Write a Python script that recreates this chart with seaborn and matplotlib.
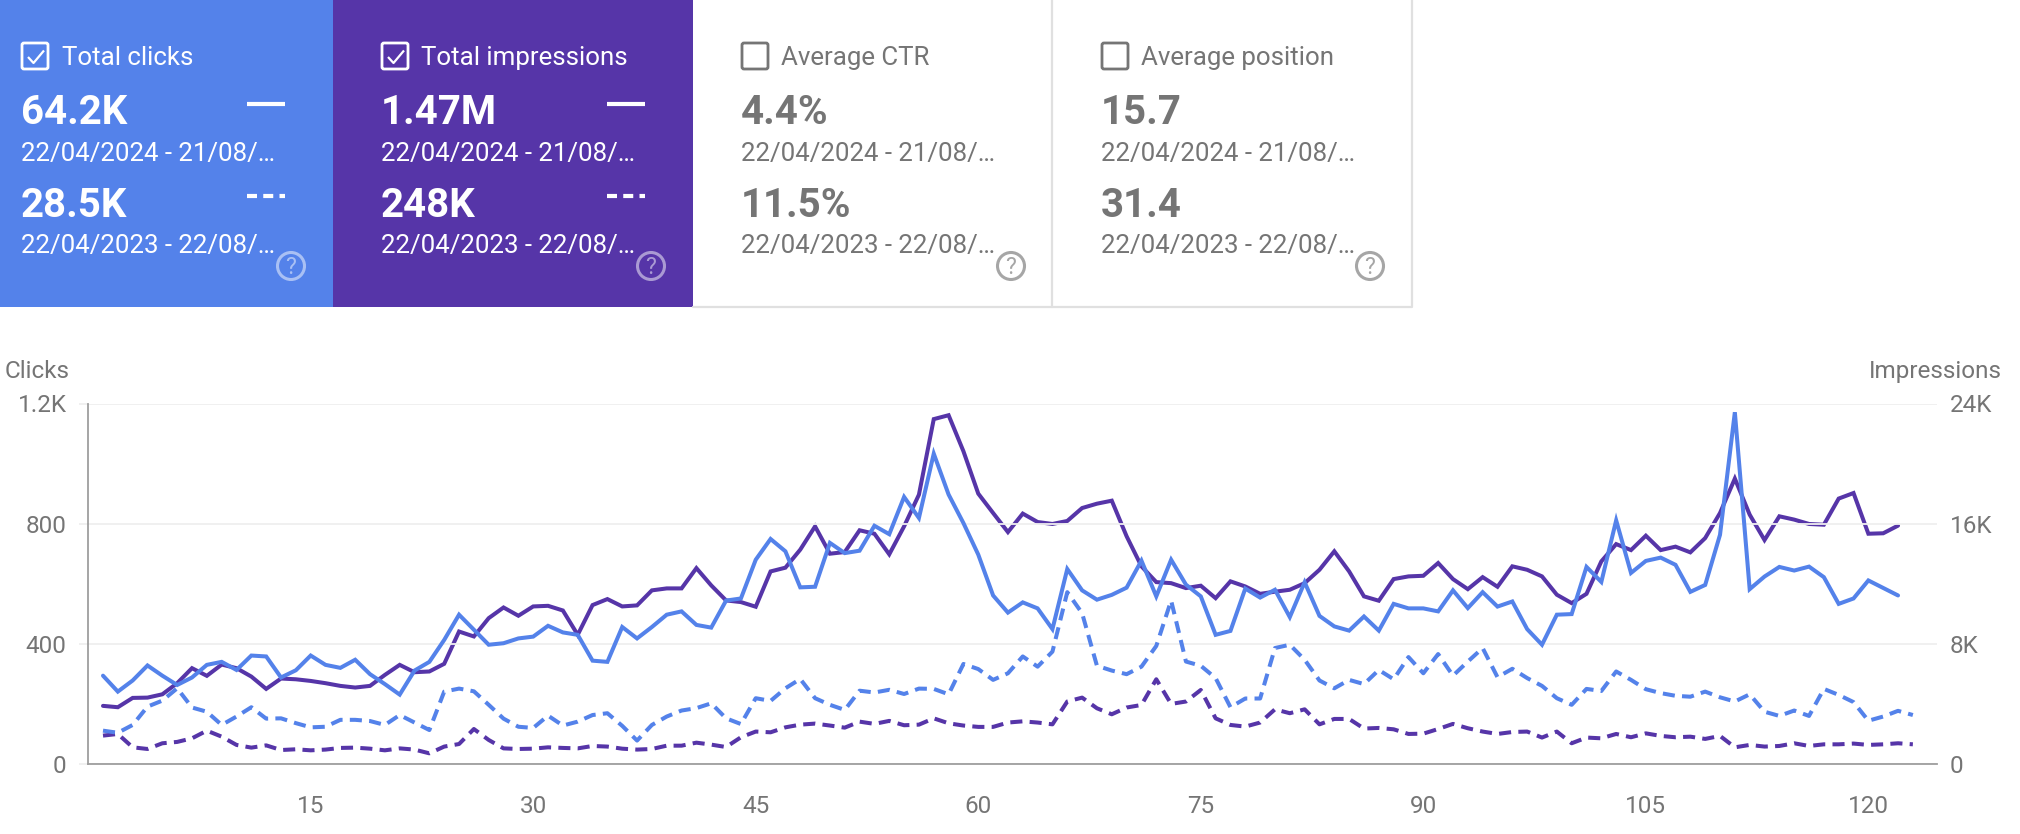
import matplotlib
matplotlib.use('Agg')
import matplotlib.pyplot as plt
from matplotlib.patches import Rectangle, FancyBboxPatch, Circle
import numpy as np
import seaborn as sns

# Card text
card_titles = ['Total clicks', 'Total impressions', 'Average CTR', 'Average position']
current_values = ['64.2K', '1.47M', '4.4%', '15.7']
previous_values = ['28.5K', '248K', '11.5%', '31.4']
current_range = '22/04/2024 - 21/08/…'
previous_range = '22/04/2023 - 22/08/…'

# Axis ticks
click_ticks = [0, 400, 800, 1200]
click_tick_labels = ['0', '400', '800', '1.2K']
impression_ticks = [0, 8000, 16000, 24000]
impression_tick_labels = ['0', '8K', '16K', '24K']
day_ticks = [15, 30, 45, 60, 75, 90, 105, 120]

# Series
clicks_current = [294, 241, 278, 328, 294, 263, 288, 330, 340, 313, 361, 358, 288, 312, 361, 330, 320, 347, 299, 266,
                  231, 311, 340, 413, 497, 447, 397, 402, 418, 424, 460, 438, 430, 344, 340, 456, 418, 456, 497, 508,
                  463, 454, 544, 551, 680, 749, 708, 588, 590, 736, 702, 710, 793, 765, 889, 819, 1033, 897, 802, 697,
                  561, 504, 538, 518, 449, 649, 578, 547, 563, 587, 677, 558, 680, 597, 558, 430, 443, 584, 554, 580,
                  489, 605, 493, 458, 444, 491, 444, 533, 518, 518, 508, 578, 519, 572, 524, 541, 449, 397, 497, 499,
                  656, 606, 811, 636, 676, 687, 663, 573, 596, 763, 1171, 582, 624, 656, 644, 657, 622, 533, 551, 611,
                  586, 561]
impressions_current = [3870, 3780, 4400, 4420, 4640, 5380, 6380, 5870, 6620, 6380, 5820, 5000, 5690, 5640, 5530, 5380,
                       5200, 5090, 5200, 5930, 6600, 6110, 6160, 6670, 8820, 8490, 9710, 10420, 9870, 10490, 10530,
                       10220, 8600, 10580, 10980, 10490, 10560, 11560, 11690, 11690, 13040, 11890, 10890, 10780, 10470,
                       12820, 13070, 14270, 15820, 14000, 14110, 15560, 15330, 13960, 15820, 17930, 22960, 23220, 20820,
                       18000, 16710, 15440, 16670, 16110, 15980, 16180, 17040, 17330, 17530, 15160, 13160, 12110, 12040,
                       11710, 11870, 11040, 12160, 11820, 11330, 11470, 11600, 12040, 12930, 14160, 12820, 11160, 10870,
                       12310, 12490, 12530, 13380, 12310, 11640, 12440, 11800, 13160, 12930, 12490, 11270, 10710, 11330,
                       13490, 14640, 14240, 15200, 14240, 14470, 14090, 15040, 16710, 19000, 16600, 14910, 16490, 16270,
                       15980, 15930, 17670, 18040, 15330, 15360, 15870]
clicks_previous = [111, 104, 130, 191, 211, 252, 188, 174, 130, 158, 189, 151, 152, 136, 122, 124, 147, 147, 143, 130,
                   163, 138, 113, 241, 251, 242, 197, 151, 124, 120, 161, 128, 141, 163, 169, 127, 78, 130, 158, 178,
                   186, 202, 152, 133, 219, 210, 252, 283, 219, 197, 180, 244, 238, 247, 233, 251, 250, 232, 333, 316,
                   280, 302, 358, 324, 374, 572, 502, 327, 311, 299, 324, 393, 544, 341, 327, 286, 189, 218, 218, 386,
                   397, 347, 278, 252, 280, 266, 313, 282, 356, 302, 366, 294, 341, 386, 289, 317, 286, 260, 219, 197,
                   250, 243, 308, 280, 249, 236, 227, 224, 241, 222, 208, 232, 174, 160, 178, 160, 250, 230, 206, 144,
                   158, 177, 163]
impressions_previous = [1890, 2000, 1110, 1000, 1380, 1470, 1710, 2220, 1820, 1270, 1090, 1240, 930, 980, 910, 960,
                        1070, 1090, 1020, 910, 1040, 960, 710, 1160, 1330, 2330, 1600, 1040, 1000, 1020, 1110, 1070,
                        1040, 1200, 1160, 1020, 960, 1000, 1220, 1220, 1420, 1290, 1130, 1780, 2160, 2110, 2440, 2620,
                        2690, 2560, 2420, 2820, 2670, 2870, 2580, 2620, 3040, 2710, 2560, 2470, 2470, 2760, 2840, 2760,
                        2640, 4160, 4420, 3710, 3310, 3760, 3930, 5640, 4000, 4160, 4930, 3040, 2600, 2490, 2760, 3640,
                        3380, 3640, 2640, 3000, 3000, 2360, 2400, 2310, 2000, 2020, 2330, 2670, 2380, 2160, 2000, 2130,
                        2160, 1760, 2160, 1380, 1760, 1710, 2000, 1780, 2040, 1870, 1780, 1820, 1670, 1870, 1110, 1270,
                        1160, 1200, 1380, 1200, 1310, 1310, 1360, 1270, 1310, 1380, 1310]

BLUE = '#5482EA'
PURPLE = '#5635A8'
GREY = '#757575'
GRID = '#EFEFEF'
AXIS = '#9E9E9E'
BORDER = '#E0E0E0'

W, H = 2020, 834

sns.set_theme(style='white')
plt.rcParams['font.family'] = ['Roboto', 'DejaVu Sans']

fig = plt.figure(figsize=(W / 100, H / 100), dpi=100, facecolor='white')

# Background layer in pixel coordinates for the cards
bg = fig.add_axes([0, 0, 1, 1])
bg.set_xlim(0, W)
bg.set_ylim(H, 0)
bg.axis('off')

card_edges = [0, 333, 693, 1052, 1412]
card_fills = [BLUE, PURPLE, 'white', 'white']
text_left = [21, 381, 741, 1101]
title_left = [61.5, 421, 781, 1141]
card_bottom = 307

for i, title in enumerate(card_titles):
    x0, x1 = card_edges[i], card_edges[i + 1]
    bg.add_patch(Rectangle((x0, 0), x1 - x0, card_bottom, facecolor=card_fills[i], edgecolor='none'))
    active = i < 2
    fg = 'white' if active else GREY

    # checkbox
    bx = text_left[i] + 1
    bg.add_patch(FancyBboxPatch((bx, 43), 26, 26, boxstyle='round,pad=0,rounding_size=2',
                                fill=False, edgecolor=fg, linewidth=2))
    if active:
        bg.plot([bx + 6, bx + 11.5, bx + 22], [57, 63, 50.5], color='white', lw=1.6, solid_capstyle='butt')

    bg.text(title_left[i], 65, title, color=fg, fontsize=18.6, va='baseline', ha='left')
    bg.text(text_left[i], 124, current_values[i], color=fg, fontsize=29, fontweight='bold', va='baseline', ha='left')
    bg.text(text_left[i], 161, current_range, color=fg, fontsize=18.6, va='baseline', ha='left')
    bg.text(text_left[i], 217, previous_values[i], color=fg, fontsize=29, fontweight='bold', va='baseline', ha='left')
    bg.text(text_left[i], 253, previous_range, color=fg, fontsize=18.6, va='baseline', ha='left')

    # legend samples
    if active:
        sample_x = [247, 285] if i == 0 else [607, 645]
        bg.plot(sample_x, [104, 104], color='white', lw=3, solid_capstyle='butt')
        bg.plot(sample_x, [196, 196], color='white', lw=3, linestyle=(0, (2.4, 1.5)), dash_capstyle='butt')

    # help icon
    cx = [291, 651, 1011, 1370][i]
    icon = (1, 1, 1, 0.5) if active else '#A6A6A6'
    bg.add_patch(Circle((cx, 266), 13.5, fill=False, edgecolor=icon, linewidth=2.2))
    bg.text(cx, 274, '?', color=icon, fontsize=16.5, ha='center', va='baseline')

# white card borders
bg.plot([693, 1412, 1412], [card_bottom, card_bottom, 0], color=BORDER, lw=1.6)
bg.plot([1052, 1052], [0, card_bottom], color=BORDER, lw=1.6)

# Chart axes, x=1 sits at pixel 103 and one day is 14.835 px
left, right, top, bottom = 88, 1937, 403.5, 764
ax = fig.add_axes([left / W, 1 - bottom / H, (right - left) / W, (bottom - top) / H])
ax2 = ax.twinx()
ax.set_zorder(ax2.get_zorder() + 1)
ax.patch.set_visible(False)
ax2.patch.set_visible(False)

days = np.arange(1, 124)
line_kw = dict(linewidth=2.9, solid_joinstyle='miter', errorbar=None)
dash_kw = dict(linewidth=2.9, linestyle=(0, (3.0, 1.8)), dash_capstyle='butt', errorbar=None)

sns.lineplot(x=days[:len(impressions_previous)], y=impressions_previous, ax=ax2, color=PURPLE, **dash_kw)
sns.lineplot(x=days[:len(impressions_current)], y=impressions_current, ax=ax2, color=PURPLE, **line_kw)
sns.lineplot(x=days[:len(clicks_previous)], y=clicks_previous, ax=ax, color=BLUE, **dash_kw)
sns.lineplot(x=days[:len(clicks_current)], y=clicks_current, ax=ax, color=BLUE, **line_kw)

xlim = (1 - 15 / 14.835, 1 + (right - 103) / 14.835)
ax.set_xlim(xlim)
ax.set_ylim(0, 1200)
ax2.set_ylim(0, 24000)

ax.set_xticks(day_ticks)
ax.set_xticklabels([str(d) for d in day_ticks])
ax.set_yticks(click_ticks)
ax.set_yticklabels(click_tick_labels)
ax2.set_yticks(impression_ticks)
ax2.set_yticklabels(impression_tick_labels)

ax.grid(axis='y', color=GRID, linewidth=1.3)
ax.set_axisbelow(True)
ax2.grid(False)
ax.tick_params(axis='x', length=0, labelsize=17.5, labelcolor=GREY, pad=22)
ax.tick_params(axis='y', length=6.5, width=1.3, color=GRID, labelsize=17.5, labelcolor=GREY, pad=9)
ax2.tick_params(axis='y', length=0, labelsize=17.5, labelcolor=GREY, pad=9)
ax.get_yticklines()[0].set_color(AXIS)

for a in (ax, ax2):
    for side in ('top', 'right', 'left', 'bottom'):
        a.spines[side].set_visible(False)
ax.spines['left'].set_visible(True)
ax.spines['left'].set_color(AXIS)
ax.spines['left'].set_linewidth(1.3)
ax.spines['bottom'].set_visible(True)
ax.spines['bottom'].set_color(AXIS)
ax.spines['bottom'].set_linewidth(1.3)

# Axis titles
bg.text(5, 378, 'Clicks', color=GREY, fontsize=17.5, ha='left', va='baseline')
bg.text(2002, 378, 'Impressions', color=GREY, fontsize=17.5, ha='right', va='baseline')

fig.savefig('out.png', dpi=100)
